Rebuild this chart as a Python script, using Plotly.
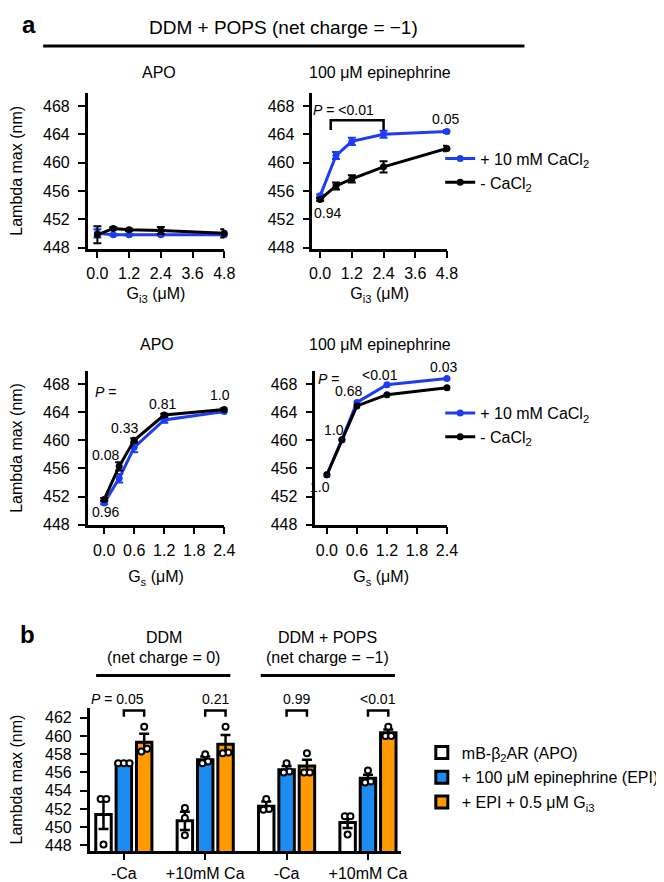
import plotly.graph_objects as go

W, H = 664, 882
FONT = "Liberation Sans, Arial, Helvetica, sans-serif"
BLUE_LINE = "#1f3cf5"
BAR_BLUE = "#1c8cf0"
BAR_ORANGE = "#ff9a00"

# ---------------- data: panel a ----------------
gi3_conc = [0.0, 0.6, 1.2, 2.4, 4.8]
gs_conc = [0.0, 0.3, 0.6, 1.2, 2.4]
gi3_ticks = [0.0, 1.2, 2.4, 3.6, 4.8]
gs_ticks = [0.0, 0.6, 1.2, 1.8, 2.4]
lambda_ticks_a = [448, 452, 456, 460, 464, 468]

apo_gi3_ca = [450.0, 449.8, 449.8, 449.8, 449.8]
apo_gi3_ca_err = [0.6, 0.1, 0.1, 0.1, 0.1]
apo_gi3_noca = [449.8, 450.7, 450.5, 450.4, 450.0]
apo_gi3_noca_err = [1.2, 0.15, 0.15, 0.5, 0.6]

epi_gi3_ca = [455.3, 461.0, 463.0, 464.0, 464.4]
epi_gi3_ca_err = [0.2, 0.5, 0.5, 0.5, 0.2]
epi_gi3_noca = [454.8, 456.7, 457.7, 459.4, 462.0]
epi_gi3_noca_err = [0.2, 0.5, 0.5, 0.8, 0.4]

apo_gs_ca = [451.1, 454.6, 459.0, 462.9, 464.1]
apo_gs_ca_err = [0.2, 0.6, 0.7, 0.4, 0.2]
apo_gs_noca = [451.6, 456.3, 460.0, 463.6, 464.4]
apo_gs_noca_err = [0.2, 0.6, 0.3, 0.2, 0.2]

epi_gs_ca = [455.1, 460.1, 465.4, 467.9, 468.8]
epi_gs_noca = [455.1, 460.1, 464.9, 466.5, 467.5]

p_epi_gi3 = ["<i>P</i> = &lt;0.01", "0.05", "0.94"]
p_apo_gs = ["<i>P</i> =", "0.96", "0.08", "0.33", "0.81", "1.0"]
p_epi_gs = ["<i>P</i> =", "1.0", "1.0", "0.68", "&lt;0.01", "0.03"]

# ---------------- data: panel b ----------------
bar_groups = ["-Ca", "+10mM Ca", "-Ca", "+10mM Ca"]
lambda_ticks_b = [448, 450, 452, 454, 456, 458, 460, 462]
apo_mean = [451.4, 450.7, 452.3, 450.5]
apo_sem = [1.6, 1.0, 0.5, 0.6]
epi_mean = [457.0, 457.4, 456.3, 455.35]
epi_sem = [0.05, 0.35, 0.4, 0.4]
gi3_mean = [459.3, 459.1, 456.7, 460.35]
gi3_sem = [0.95, 1.0, 0.7, 0.35]
apo_pts = [[453.1, 453.1, 448.1], [452.1, 451.0, 449.1], [453.1, 452.0, 451.9], [451.2, 451.2, 449.2]]
epi_pts = [[457.0, 457.0, 457.0], [458.0, 457.2, 457.0], [457.0, 456.1, 456.0], [456.2, 455.0, 454.9]]
gi3_pts = [[461.0, 458.6, 458.3], [461.0, 458.2, 458.1], [458.1, 456.0, 456.0], [461.0, 460.0, 460.0]]
bar_pvals = ["<i>P</i> = 0.05", "0.21", "0.99", "&lt;0.01"]
legend_b = ["mB-β<sub>2</sub>AR (APO)", "+ 100 μM epinephrine (EPI)", "+ EPI + 0.5 μM G<sub>i3</sub>"]

# ---------------- figure ----------------
fig = go.Figure()

def line_pair(x, yca, yno, eca, eno, xa, ya, legend, show):
    for y, e, col, name in [(yca, eca, BLUE_LINE, "+ 10 mM CaCl<sub>2</sub>"),
                            (yno, eno, "black", "- CaCl<sub>2</sub>")]:
        fig.add_trace(go.Scatter(
            x=x, y=y, mode="lines+markers", name=name, xaxis=xa, yaxis=ya,
            line=dict(color=col, width=3), marker=dict(color=col, size=7),
            error_y=dict(type="data", array=e, visible=e is not None, color=col,
                         thickness=2, width=4),
            cliponaxis=False, showlegend=show, legend=legend))

line_pair(gi3_conc, apo_gi3_ca, apo_gi3_noca, apo_gi3_ca_err, apo_gi3_noca_err, "x", "y", "legend", False)
line_pair(gi3_conc, epi_gi3_ca, epi_gi3_noca, epi_gi3_ca_err, epi_gi3_noca_err, "x2", "y2", "legend", True)
line_pair(gs_conc, apo_gs_ca, apo_gs_noca, apo_gs_ca_err, apo_gs_noca_err, "x3", "y3", "legend2", False)
line_pair(gs_conc, epi_gs_ca, epi_gs_noca, None, None, "x4", "y4", "legend2", True)

# bars
offsets = [-0.25, 0.0, 0.25]
bar_sets = [(apo_mean, apo_sem, apo_pts, "white"),
            (epi_mean, epi_sem, epi_pts, BAR_BLUE),
            (gi3_mean, gi3_sem, gi3_pts, BAR_ORANGE)]

def spread(vals, step=0.07, tol=0.35):
    offs = [0.0] * len(vals)
    order = sorted(range(len(vals)), key=lambda i: vals[i])
    clusters = []
    for i in order:
        if clusters and abs(vals[i] - vals[clusters[-1][-1]]) < tol:
            clusters[-1].append(i)
        else:
            clusters.append([i])
    for c in clusters:
        n = len(c)
        for k, i in enumerate(c):
            offs[i] = (k - (n - 1) / 2) * step
    return offs

for k, (mean, sem, pts, col) in enumerate(bar_sets):
    xs = [g + offsets[k] for g in range(len(bar_groups))]
    fig.add_trace(go.Bar(
        x=xs, y=mean, width=0.19, name=legend_b[k], xaxis="x5", yaxis="y5",
        marker=dict(color=col, line=dict(color="black", width=3)),
        error_y=dict(type="data", array=sem, color="black", thickness=2.5, width=5),
        legend="legend3", legendgroup=f"g{k}", showlegend=True))
for k, (mean, sem, pts, col) in enumerate(bar_sets):
    px_, py_ = [], []
    for g, p in enumerate(pts):
        offs = spread(p)
        for v, o in zip(p, offs):
            px_.append(g + offsets[k] + o)
            py_.append(v)
    fig.add_trace(go.Scatter(
        x=px_, y=py_, mode="markers", xaxis="x5", yaxis="y5", showlegend=False,
        marker=dict(symbol="circle", size=6, color="white", line=dict(color="black", width=2)),
        cliponaxis=False))

# ---------------- axes ----------------
TS = 16
base = dict(showline=True, linewidth=2.5, linecolor="black", ticks="outside", ticklen=7,
            tickwidth=2, tickcolor="black", showgrid=False, zeroline=False,
            tickfont=dict(size=TS, color="black", family=FONT))
ybase = dict(base, ticklabelstandoff=5)
xbase = dict(base, ticklabelstandoff=2)
xbar = dict(base, ticklen=6)
ytitle = dict(text="Lambda max (nm)", font=dict(size=TS, color="black", family=FONT), standoff=24)

def xt(text, standoff):
    return dict(text=text, font=dict(size=TS, family=FONT, color="black"), standoff=standoff)

def dx(a, b):
    return [a / W, b / W]

def dy(top, bottom):
    return [1 - bottom / H, 1 - top / H]

fig.update_layout(
    xaxis=dict(xbase, domain=dx(72, 213), range=[-0.366, 4.8], tickvals=gi3_ticks, tickformat=".1f",
               anchor="y", title=xt("G<sub>i3</sub> (μM)", 7)),
    yaxis=dict(ybase, domain=dy(86, 243), range=[447.86, 469.82], tickvals=lambda_ticks_a, anchor="x", title=ytitle),
    xaxis2=dict(xbase, domain=dx(304, 443), range=[-0.293, 4.8], tickvals=gi3_ticks, tickformat=".1f",
                anchor="y2", title=xt("G<sub>i3</sub> (μM)", 7)),
    yaxis2=dict(ybase, domain=dy(86, 243), range=[447.86, 469.82], tickvals=lambda_ticks_a, anchor="x2"),
    xaxis3=dict(xbase, domain=dx(72, 213), range=[-0.329, 2.4], tickvals=gs_ticks, tickformat=".1f",
                anchor="y3", title=xt("G<sub>s</sub> (μM)", 14)),
    yaxis3=dict(ybase, domain=dy(367, 522), range=[448.0, 469.83], tickvals=lambda_ticks_a, anchor="x3", title=ytitle),
    xaxis4=dict(xbase, domain=dx(307, 443), range=[-0.232, 2.4], tickvals=gs_ticks, tickformat=".1f",
                anchor="y4", title=xt("G<sub>s</sub> (μM)", 14)),
    yaxis4=dict(ybase, domain=dy(367, 522), range=[448.0, 469.83], tickvals=lambda_ticks_a, anchor="x4"),
    xaxis5=dict(xbar, domain=dx(74, 395), range=[-0.42, 3.40], tickvals=list(range(len(bar_groups))),
                ticktext=bar_groups, anchor="y5"),
    yaxis5=dict(ybase, domain=dy(707, 852), range=[447.35, 463.09], tickvals=lambda_ticks_b, anchor="x5", title=ytitle),
)

# ---------------- legends ----------------
leg_font = dict(size=TS, color="black", family=FONT)
fig.update_layout(
    legend=dict(x=436 / W, y=1 - 135 / H, xanchor="left", yanchor="top", font=leg_font,
                bgcolor="rgba(0,0,0,0)", borderwidth=0),
    legend2=dict(x=436 / W, y=1 - 392 / H, xanchor="left", yanchor="top", font=leg_font,
                 bgcolor="rgba(0,0,0,0)", borderwidth=0),
    legend3=dict(x=417 / W, y=1 - 735 / H, xanchor="left", yanchor="top", font=leg_font,
                 bgcolor="rgba(0,0,0,0)", borderwidth=0, traceorder="grouped", tracegroupgap=1),
)

# ---------------- annotations & shapes ----------------
anns = []
shapes = []

def A(text, x, y, xref="paper", yref="paper", size=14, **kw):
    d = dict(text=text, x=x, y=y, xref=xref, yref=yref, showarrow=False,
             xanchor="center", yanchor="middle",
             font=dict(size=size, color="black", family=FONT))
    d.update(kw)
    anns.append(d)

def P(x, y):
    return x / W, 1 - y / H

# panel letters and titles
A("<b>a</b>", *P(11, 17), size=24)
A("<b>b</b>", *P(10, 633), size=24)
A("DDM + POPS (net charge = −1)", *P(274.5, 20), size=19)
shapes.append(dict(type="line", xref="paper", yref="paper", x0=26 / W, x1=523 / W,
                   y0=1 - 38.5 / H, y1=1 - 38.5 / H, line=dict(color="black", width=3)))
A("APO", *P(146, 65), size=TS)
A("100 μM epinephrine", *P(374, 65), size=TS)
A("APO", *P(144, 340), size=TS)
A("100 μM epinephrine", *P(374, 340), size=TS)

# top-right p values
A(p_epi_gi3[0], 0.9, 467.5, "x2", "y2")
A(p_epi_gi3[1], 4.73, 466.2, "x2", "y2")
A(p_epi_gi3[2], 0.29, 452.9, "x2", "y2")
shapes.append(dict(type="path", xref="x2", yref="y2",
                   path="M 0.4,464.6 L 0.4,466.0 L 2.4,466.0 L 2.4,464.6",
                   line=dict(color="black", width=2.5)))

# middle-left p values
A(p_apo_gs[0], -0.23, 466.9, "x3", "y3", xanchor="left")
A(p_apo_gs[1], 0.02, 449.8, "x3", "y3")
A(p_apo_gs[2], 0.03, 457.9, "x3", "y3")
A(p_apo_gs[3], 0.41, 461.7, "x3", "y3")
A(p_apo_gs[4], 1.16, 465.1, "x3", "y3")
A(p_apo_gs[5], 2.31, 466.4, "x3", "y3")

# middle-right p values (0.03 sits above the axis top: anchor at top + pixel shift)
A(p_epi_gs[0], -0.21, 468.7, "x4", "y4", xanchor="left")
A(p_epi_gs[1], -0.14, 453.4, "x4", "y4")
A(p_epi_gs[2], 0.135, 461.5, "x4", "y4")
A(p_epi_gs[3], 0.44, 467.0, "x4", "y4")
A(p_epi_gs[4], 1.06, 469.3, "x4", "y4")
A(p_epi_gs[5], 2.34, 469.8, "x4", "y4", yshift=4)

# panel b headers
A("DDM", *P(150.5, 636), size=TS)
A("(net charge = 0)", *P(150.5, 656), size=TS)
A("DDM + POPS", *P(320, 636), size=TS)
A("(net charge = −1)", *P(320, 656), size=TS)
for a, b in [(80.7, 219.3), (250.7, 389.3)]:
    shapes.append(dict(type="line", xref="paper", yref="paper", x0=a / W, x1=b / W,
                       y0=1 - 674.3 / H, y1=1 - 674.3 / H, line=dict(color="black", width=3)))

# panel b brackets (p-value text sits above axis top: anchor at top + pixel shift)
for g, txt in enumerate(bar_pvals):
    x1, x2 = g + offsets[1], g + offsets[2]
    shapes.append(dict(type="path", xref="x5", yref="y5",
                       path=f"M {x1},462.1 L {x1},462.8 L {x2},462.8 L {x2},462.1",
                       line=dict(color="black", width=2.5)))
    if g == 0:
        A(txt, x2 + 0.02, 463.0, "x5", "y5", xanchor="right", yshift=10)
    else:
        A(txt, (x1 + x2) / 2, 463.0, "x5", "y5", yshift=10)

fig.update_layout(
    annotations=anns, shapes=shapes,
    width=W, height=H, margin=dict(l=0, r=0, t=0, b=0),
    paper_bgcolor="white", plot_bgcolor="white",
    font=dict(family=FONT, color="black", size=TS),
    barmode="overlay",
)

fig.write_html("out.html")
